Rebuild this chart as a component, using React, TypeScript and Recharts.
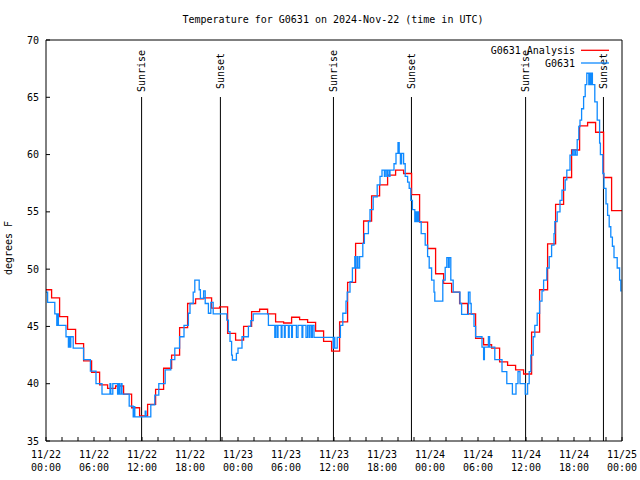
import React from "react";
import { LineChart, Line, XAxis, YAxis, ReferenceLine } from "recharts";

const chartTitle = "Temperature for G0631 on 2024-Nov-22 (time in UTC)";
const yAxisTitle = "degrees F";
const seriesNames = ["G0631 Analysis", "G0631"];
const seriesColors = ["#ff0000", "#0f8aff"];

// hours since 11/22 00:00 UTC
const labelHours = [0, 6, 12, 18, 24, 30, 36, 42, 48, 54, 60, 66, 72];
const dayLabels = ["11/22", "11/22", "11/22", "11/22", "11/23", "11/23", "11/23", "11/23", "11/24", "11/24", "11/24", "11/24", "11/25"];
const timeLabels = ["00:00", "06:00", "12:00", "18:00", "00:00", "06:00", "12:00", "18:00", "00:00", "06:00", "12:00", "18:00", "00:00"];
const tickHours = [0, 2, 4, 6, 8, 10, 12, 14, 16, 18, 20, 22, 24, 26, 28, 30, 32, 34, 36, 38, 40, 42, 44, 46, 48, 50, 52, 54, 56, 58, 60, 62, 64, 66, 68, 70, 72];
const tempTicks = [35, 40, 45, 50, 55, 60, 65, 70];

const sunLabels = ["Sunrise", "Sunset", "Sunrise", "Sunset", "Sunrise", "Sunset"];
const sunHours = [11.95, 21.8, 35.93, 45.68, 59.95, 69.68];

// hourly analysis, each value shown from 0.3 h before the hour
const ANALYSIS_LEAD = 0.3;
const analysisTemps = [
  48.2, 47.5, 45.85, 44.75, 43.5, 42.0, 41.0, 39.9, 39.6, 39.8, 39.1, 37.9,
  37.2, 38.2, 39.5, 41.35, 42.5, 44.9, 47.0, 47.4, 47.5, 46.6, 46.7, 44.4,
  43.8, 45.0, 46.3, 46.5, 46.1, 45.4, 45.3, 45.8, 45.6, 45.35, 44.6, 43.7,
  42.85, 45.4, 48.85, 52.25, 54.2, 56.4, 57.35, 58.2, 58.65, 58.35, 56.5, 54.1,
  51.8, 49.6, 48.75, 48.0, 47.0, 46.1, 43.95, 43.4, 43.1, 41.9, 41.6, 41.2,
  40.85, 44.5, 48.2, 52.2, 55.65, 58.0, 60.4, 62.5, 62.8, 61.95, 58.0, 55.1,
  55.1,
];

// station observations: hour of each change, temperature after it
const obsHours = [
  0, 0.2, 1.1, 1.35, 1.45, 1.55, 2.5, 2.8, 2.9, 3.0, 3.1, 3.4, 4.7, 5.55, 6.25, 7.0,
  8.0, 8.1, 8.35, 8.95, 9.05, 9.2, 9.4, 9.5, 10.4, 10.9, 11.0, 11.1, 12.4, 12.5, 13.1, 13.6,
  14.1, 14.9, 15.6, 16.1, 16.7, 17.25, 17.8, 18.0, 18.4, 18.6, 19.15, 19.3, 19.7, 19.9, 20.3, 20.6,
  20.9, 22.6, 22.8, 23.0, 23.2, 23.3, 23.8, 24.0, 24.5, 25.3, 25.6, 25.9, 27.8,
  28.6, 28.7, 28.9, 29.0, 29.4, 29.5, 29.8, 29.9, 30.3, 30.4, 30.7, 30.8, 31.3, 31.5, 32.0, 32.1,
  32.5, 32.7, 32.9, 33.0, 33.2, 33.3, 33.5,
  35.9, 36.0, 36.1, 36.4, 36.8, 37.1, 37.5, 37.65, 38.0, 38.3, 38.6, 38.7, 38.9, 39.0, 39.2, 39.6,
  39.8, 40.3, 40.5, 40.9, 41.4, 41.75, 42.0, 42.3, 42.4, 42.6, 42.7, 42.9, 43.0, 43.5, 43.75, 44.0,
  44.15, 44.3, 44.45, 44.7, 44.9, 45.2, 45.4, 45.6, 45.8, 46.1, 46.2, 46.35, 46.5, 46.6, 46.9, 47.4,
  47.7, 47.9, 48.2, 48.5, 48.6, 49.6, 49.9, 50.1, 50.3, 50.4, 50.6, 50.9, 51.75, 51.95, 52.8, 53.0,
  53.15, 53.5, 53.7, 54.5, 54.7, 54.8, 55.3, 55.45, 56.1, 57.0, 57.6, 58.3, 58.75, 59.0, 59.25, 59.9,
  60.2, 60.4, 60.6, 60.9, 61.1, 61.4, 61.7, 62.0, 62.2, 62.6, 62.9, 63.2, 63.5, 63.6, 63.9, 64.25,
  64.5, 64.9, 65.1, 65.5, 65.8, 65.9, 66.1, 66.2, 66.4, 66.6, 66.75, 66.95, 67.2, 67.4, 67.6, 67.85,
  67.95, 68.1, 68.15, 68.3, 68.6, 68.9, 69.2, 69.3, 69.6, 69.75, 70.0, 70.2, 70.4, 70.6, 70.8, 71.0,
  71.4, 71.7, 71.85, 71.95,
];
const obsTemps = [
  48.0, 47.1, 46.1, 45.1, 46.1, 45.1, 44.1, 43.2, 44.1, 43.2, 44.1, 43.1, 42.1, 41.1, 40.0, 39.1,
  40.0, 39.1, 40.0, 39.1, 40.0, 39.1, 40.0, 39.1, 38.05, 37.1, 38.0, 37.1, 37.6, 37.1, 38.15, 39.0,
  40.0, 41.2, 42.1, 43.1, 44.1, 45.1, 46.15, 47.0, 48.0, 49.05, 48.2, 47.45, 48.1, 47.0, 46.15, 47.1,
  46.1, 45.55, 44.55, 43.7, 42.5, 42.07, 42.65, 43.1, 44.1, 45.0, 45.5, 46.1, 45.1,
  44.05, 45.1, 44.05, 45.1, 44.05, 45.1, 44.05, 45.1, 44.05, 45.1, 44.05, 45.1, 44.05, 45.1, 44.05, 45.1,
  44.05, 45.1, 44.05, 45.1, 44.05, 45.1, 44.05,
  43.1, 44.05, 43.1, 44.05, 45.1, 46.15, 47.2, 48.0, 48.9, 50.1, 51.1, 50.1, 51.1, 50.1, 51.1, 52.25,
  53.1, 54.15, 55.2, 56.3, 57.35, 58.1, 58.65, 58.1, 58.65, 58.1, 58.65, 58.1, 58.65, 59.2, 60.1, 61.04,
  60.1, 59.2, 60.1, 59.2, 58.1, 57.6, 57.05, 56.0, 55.2, 54.15, 55.0, 54.15, 55.0, 54.15, 53.1, 52.1,
  51.1, 50.1, 49.05, 48.0, 47.2, 49.05, 50.15, 51.0, 50.15, 51.0, 49.05, 48.0, 47.0, 46.05, 48.0, 47.0,
  46.05, 45.0, 44.1, 43.2, 42.1, 43.2, 44.1, 43.2, 42.1, 41.05, 40.0, 39.1, 40.0, 41.05, 40.0, 39.1,
  40.0, 41.05, 42.5, 44.1, 45.1, 46.15, 47.2, 48.1, 49.05, 50.1, 51.1, 52.1, 53.1, 54.15, 55.0, 56.0,
  56.9, 57.8, 58.65, 59.96, 60.4, 59.96, 60.4, 59.96, 61.3, 62.45, 63.0, 64.0, 65.05, 66.1, 67.1, 66.1,
  67.1, 66.1, 67.1, 66.1, 64.6, 63.0, 61.0, 60.0, 58.35, 57.05, 55.7, 54.7, 53.7, 52.8, 52.0, 51.0,
  50.1, 49.05, 48.1, 48.1,
];

const analysisData = analysisTemps.map((temp, i) => ({ t: Math.max(0, i - ANALYSIS_LEAD), temp }));
analysisData.push({ t: 72, temp: analysisTemps[analysisTemps.length - 1] });
const obsData = obsHours.map((t, i) => ({ t, temp: obsTemps[i] }));

const FONT = "'DejaVu Sans Mono', monospace";
const TICK = 4;

const BottomTick = ({ x, y, payload }) => {
  const i = labelHours.indexOf(payload.value);
  return (
    <g>
      <line x1={x} y1={y} x2={x} y2={y - TICK} stroke="#000" />
      {i >= 0 && (
        <text x={x} y={y + 16.5} textAnchor="middle" fontFamily={FONT} fontSize={10} fill="#000">
          {dayLabels[i]}
        </text>
      )}
      {i >= 0 && (
        <text x={x} y={y + 30} textAnchor="middle" fontFamily={FONT} fontSize={10} fill="#000">
          {timeLabels[i]}
        </text>
      )}
    </g>
  );
};

const TopTick = ({ x, y }) => <line x1={x} y1={y} x2={x} y2={y + TICK} stroke="#000" />;

const LeftTick = ({ x, y, payload }) => (
  <g>
    <line x1={x} y1={y} x2={x + TICK} y2={y} stroke="#000" />
    <text x={x - 7} y={y + 3.5} textAnchor="end" fontFamily={FONT} fontSize={10} fill="#000">
      {payload.value}
    </text>
  </g>
);

const RightTick = ({ x, y }) => <line x1={x} y1={y} x2={x - TICK} y2={y} stroke="#000" />;

const sunShape = (label) => (props) => {
  const { x1, y1, y2 } = props;
  const top = Math.min(y1, y2);
  const bottom = Math.max(y1, y2);
  return (
    <g>
      <line x1={x1} x2={x1} y1={top + 57} y2={bottom} stroke="#000" strokeWidth={1} />
      <text
        transform={`translate(${x1 + 3.5},${top + 31}) rotate(-90)`}
        textAnchor="middle"
        fontFamily={FONT}
        fontSize={10}
        fill="#000"
      >
        {label}
      </text>
    </g>
  );
};

export default function App() {
  return (
    <div style={{ position: "absolute", left: 0, top: 0, width: 640, height: 480, background: "#fff" }}>
      <LineChart width={640} height={480} margin={{ top: 0, right: 0, bottom: 0, left: 0 }}>
        <XAxis
          xAxisId="top"
          orientation="top"
          type="number"
          dataKey="t"
          domain={[0, 72]}
          ticks={tickHours}
          interval={0}
          height={40}
          tickSize={0}
          tickMargin={0}
          tickLine={false}
          axisLine={{ stroke: "#000" }}
          tick={(p) => <TopTick {...p} />}
        />
        <XAxis
          type="number"
          dataKey="t"
          domain={[0, 72]}
          allowDataOverflow
          ticks={tickHours}
          interval={0}
          height={39}
          tickSize={0}
          tickMargin={0}
          tickLine={false}
          axisLine={{ stroke: "#000" }}
          tick={(p) => <BottomTick {...p} />}
        />
        <YAxis
          domain={[35, 70]}
          allowDataOverflow
          ticks={tempTicks}
          interval={0}
          width={46}
          tickSize={0}
          tickMargin={0}
          tickLine={false}
          axisLine={{ stroke: "#000" }}
          tick={(p) => <LeftTick {...p} />}
        />
        <YAxis
          yAxisId="right"
          orientation="right"
          domain={[35, 70]}
          ticks={tempTicks}
          interval={0}
          width={18}
          tickSize={0}
          tickMargin={0}
          tickLine={false}
          axisLine={{ stroke: "#000" }}
          tick={(p) => <RightTick {...p} />}
        />
        {sunHours.map((h, i) => (
          <ReferenceLine key={i} x={h} shape={sunShape(sunLabels[i])} />
        ))}
        <Line
          data={analysisData}
          dataKey="temp"
          type="stepAfter"
          stroke={seriesColors[0]}
          strokeWidth={1.3}
          dot={false}
          activeDot={false}
          isAnimationActive={false}
        />
        <Line
          data={obsData}
          dataKey="temp"
          type="stepAfter"
          stroke={seriesColors[1]}
          strokeWidth={1.3}
          dot={false}
          activeDot={false}
          isAnimationActive={false}
        />
      </LineChart>
      <svg
        width={640}
        height={480}
        style={{ position: "absolute", left: 0, top: 0, pointerEvents: "none" }}
      >
        <text x={333} y={23} textAnchor="middle" fontFamily={FONT} fontSize={10} fill="#000">
          {chartTitle}
        </text>
        <text
          transform="translate(12,248) rotate(-90)"
          textAnchor="middle"
          fontFamily={FONT}
          fontSize={10}
          fill="#000"
        >
          {yAxisTitle}
        </text>
        {seriesNames.map((name, i) => (
          <g key={name}>
            <text x={575} y={54 + i * 12.7} textAnchor="end" fontFamily={FONT} fontSize={10} fill="#000">
              {name}
            </text>
            <line x1={581} x2={609} y1={50.3 + i * 12.7} y2={50.3 + i * 12.7} stroke={seriesColors[i]} strokeWidth={1.3} />
          </g>
        ))}
      </svg>
    </div>
  );
}
